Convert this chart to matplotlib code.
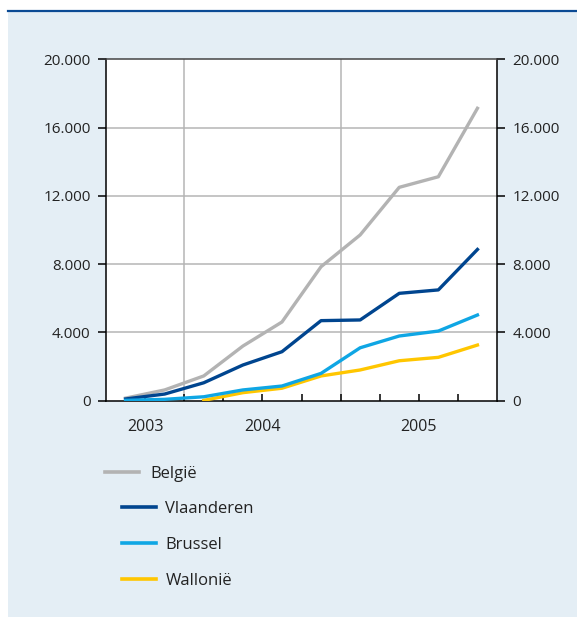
import numpy as np
import matplotlib
matplotlib.use('Agg')
import matplotlib.pyplot as plt
from matplotlib.patches import Rectangle
from matplotlib.lines import Line2D
from matplotlib.ticker import FixedLocator, FuncFormatter

plt.rcParams['font.family'] = ['Open Sans', 'DejaVu Sans']

# Kwartalen: 2003 Q3 ... 2005 Q4
years = ['2003', '2004', '2005']
year_pos = [1, 4, 8]          # midden van elk jaar (in kwartalen)
year_bounds = [2, 6]          # jaargrenzen
belgie = [150, 630, 1450, 3200, 4610, 7850, 9710, 12500, 13120, 17130]
vlaanderen = [100, 390, 1050, 2090, 2870, 4690, 4730, 6290, 6490, 8860]
brussel = [20, 80, 230, 630, 860, 1600, 3100, 3790, 4080, 5020]
wallonie = [np.nan, np.nan, 20, 470, 730, 1450, 1800, 2340, 2540, 3260]
y_ticks = [0, 4000, 8000, 12000, 16000, 20000]

c_bel = '#b3b3b3'
c_vla = '#00458f'
c_bru = '#0fa6e4'
c_wal = '#ffc600'
bg = '#e4eef5'
txt = '#222222'

W, H = 577, 617
fig = plt.figure(figsize=(W / 100, H / 100), dpi=100)

# lichtblauw paneel met donkerblauwe lijn erboven
fig.patches.append(Rectangle((8 / W, 0), 1 - 8 / W, 1 - 11 / H, transform=fig.transFigure,
                             facecolor=bg, edgecolor='none', zorder=-5))
fig.lines.append(Line2D([8 / W, 1], [1 - 11 / H, 1 - 11 / H], transform=fig.transFigure,
                        color='#0a4a94', lw=1.6, zorder=-4))

ax = fig.add_axes([106 / W, 1 - 400.7 / H, (497 - 106) / W, (400.7 - 59.3) / H])
ax.set_zorder(2)
ax.set_facecolor('white')

x = np.arange(len(belgie)) + 0.5
lw = 2.4
ax.plot(x, belgie, color=c_bel, lw=lw, label='België', zorder=3)
ax.plot(x, vlaanderen, color=c_vla, lw=lw, label='Vlaanderen', zorder=3)
ax.plot(x, wallonie, color=c_wal, lw=lw, label='Wallonië', zorder=3)
ax.plot(x, brussel, color=c_bru, lw=lw, label='Brussel', zorder=3)
h_bel, h_vla, h_wal, h_bru = ax.get_lines()

ax.set_xlim(0, len(belgie))
ax.set_ylim(0, 20000)

# rasterlijnen
for yv in y_ticks[1:-1]:
    ax.axhline(yv, color='#b5b5b5', lw=1.1, zorder=1)
for xv in year_bounds:
    ax.axvline(xv, color='#b5b5b5', lw=1.1, zorder=1)

for s in ['left', 'right', 'bottom']:
    ax.spines[s].set_color('black')
    ax.spines[s].set_linewidth(1.1)
ax.spines['top'].set_color('#444444')
ax.spines['top'].set_linewidth(1.1)

fmt = FuncFormatter(lambda v, p: f'{int(v):,}'.replace(',', '.'))
ax.set_yticks(y_ticks)
ax.yaxis.set_major_formatter(fmt)
ax.tick_params(axis='y', which='major', direction='out', length=6, width=1.1,
               labelsize=11, labelcolor=txt, left=True, right=True,
               labelleft=True, labelright=True, pad=5)

# kwartaalstreepjes (major) en jaartallen (minor)
ax.xaxis.remove_overlapping_locs = False
ax.xaxis.set_major_locator(FixedLocator(np.arange(1, len(belgie))))
ax.xaxis.set_major_formatter(FuncFormatter(lambda v, p: ''))
ax.set_xticks(year_pos, minor=True)
ax.set_xticklabels(years, minor=True)
ax.tick_params(axis='x', which='major', direction='in', length=5, width=1.1)
ax.tick_params(axis='x', which='minor', length=0, labelsize=11.5, labelcolor=txt, pad=13)

# legenda
leg1 = fig.legend(handles=[h_bel], loc='center left', bbox_to_anchor=(105 / W, 1 - 474 / H),
                  frameon=False, fontsize=12, labelcolor=txt, borderpad=0, borderaxespad=0,
                  handlelength=2.05, handletextpad=0.7)
leg2 = fig.legend(handles=[h_vla, h_bru, h_wal], loc='upper left',
                  bbox_to_anchor=(122 / W, 1 - 501 / H),
                  frameon=False, fontsize=12, labelcolor=txt, borderpad=0, borderaxespad=0,
                  handlelength=2.05, handletextpad=0.55, labelspacing=1.2)
for leg in (leg1, leg2):
    for ln in leg.get_lines():
        ln.set_linewidth(2.6)

fig.savefig('out.png', dpi=100)
